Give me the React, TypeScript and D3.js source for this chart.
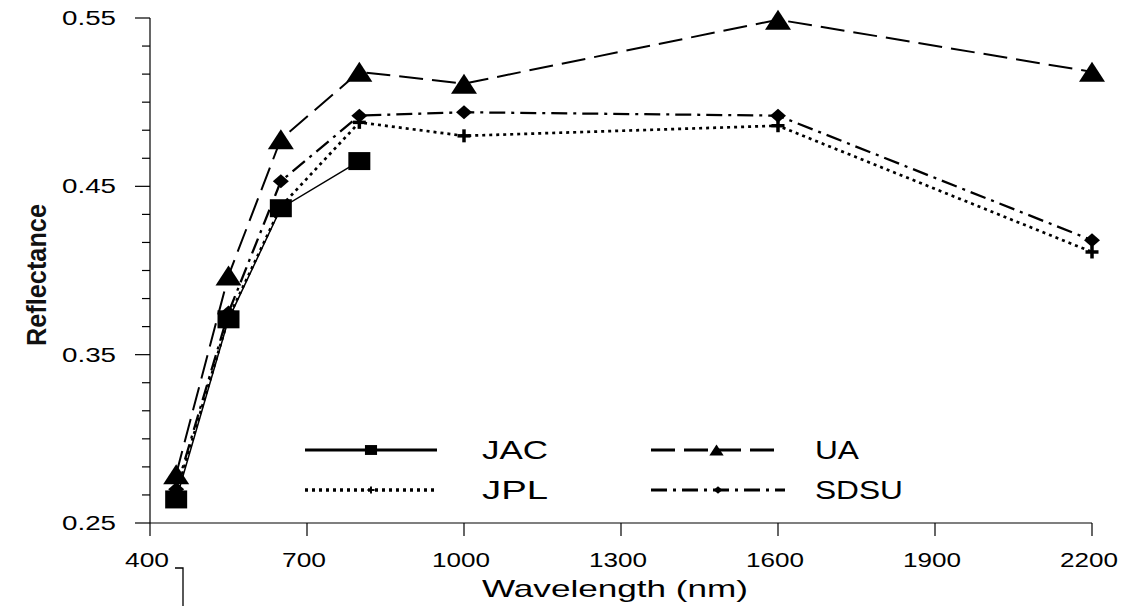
import React from "react";
import * as d3 from "d3";

const wavelengths = [450, 550, 650, 800, 1000, 1600, 2200];
const jac = [0.264, 0.371, 0.437, 0.465];
const ua = [0.279, 0.397, 0.478, 0.518, 0.511, 0.549, 0.518];
const jpl = [0.267, 0.372, 0.438, 0.488, 0.48, 0.486, 0.411];
const sdsu = [0.27, 0.375, 0.453, 0.492, 0.494, 0.492, 0.418];
const xTicks = [400, 700, 1000, 1300, 1600, 1900, 2200];
const yTicks = [0.25, 0.35, 0.45, 0.55];

const W = 1138;
const H = 606;
const FONT = "'Liberation Sans', Arial, sans-serif";

type MarkerKind = "square" | "triangle" | "plus" | "diamond";

function markerPath(kind: MarkerKind, cx: number, cy: number, s: number) {
  const p = d3.path();
  if (kind === "square") {
    const w = 22 * s, h = 18 * s;
    p.rect(cx - w / 2, cy - h / 2, w, h);
  } else if (kind === "triangle") {
    const w = 26 * s, h = 20 * s;
    p.moveTo(cx, cy - h / 2);
    p.lineTo(cx + w / 2, cy + h / 2);
    p.lineTo(cx - w / 2, cy + h / 2);
    p.closePath();
  } else if (kind === "diamond") {
    const w = 16 * s, h = 14 * s;
    p.moveTo(cx, cy - h / 2);
    p.lineTo(cx + w / 2, cy);
    p.lineTo(cx, cy + h / 2);
    p.lineTo(cx - w / 2, cy);
    p.closePath();
  }
  return p.toString();
}

const series = [
  { name: "JAC", values: jac, dash: "none", width: 1.5, legendWidth: 3, marker: "square" as MarkerKind },
  { name: "UA", values: ua, dash: "24,9", width: 2, legendWidth: 3, marker: "triangle" as MarkerKind },
  { name: "JPL", values: jpl, dash: "3,4", width: 2.7, legendWidth: 3.5, marker: "plus" as MarkerKind },
  { name: "SDSU", values: sdsu, dash: "16,6,3,6", width: 2.3, legendWidth: 3, marker: "diamond" as MarkerKind },
];

function Marker({ kind, cx, cy, s }: { kind: MarkerKind; cx: number; cy: number; s: number }) {
  if (kind === "plus") {
    const w = 13 * s, h = 13 * s;
    return (
      <g stroke="#000" strokeWidth={3.5 * s}>
        <line x1={cx - w / 2} x2={cx + w / 2} y1={cy} y2={cy} />
        <line x1={cx} x2={cx} y1={cy - h / 2} y2={cy + h / 2} />
      </g>
    );
  }
  return <path d={markerPath(kind, cx, cy, s)} fill="#000" />;
}

export default function App() {
  const x = d3.scaleLinear().domain([400, 2200]).range([150, 1092]);
  const y = d3.scaleLinear().domain([0.25, 0.55]).range([523, 18]);
  const minorY = d3.range(0, 19).map((i) => 0.25 + (i * 0.1) / 6).filter((_, i) => i % 6 !== 0);

  const line = d3
    .line<[number, number]>()
    .x((d) => x(d[0]))
    .y((d) => y(d[1]));

  const legendItems = [
    { s: series[0], x0: 305, x1: 437, tx: 482, ty: 450 },
    { s: series[1], x0: 651, x1: 782, tx: 815, ty: 450 },
    { s: series[2], x0: 305, x1: 437, tx: 482, ty: 490 },
    { s: series[3], x0: 651, x1: 785, tx: 815, ty: 490 },
  ];

  return (
    <svg width={W} height={H} style={{ position: "absolute", left: 0, top: 0, background: "#fff" }}>
      <rect width={W} height={H} fill="#fff" />
      {/* axes */}
      <g stroke="#000" strokeWidth={1.2} fill="none">
        <line x1={x(400)} x2={x(400)} y1={y(0.25)} y2={y(0.55)} />
        <line x1={x(400)} x2={x(2200)} y1={y(0.25)} y2={y(0.25)} />
        {yTicks.map((t) => (
          <line key={"yt" + t} x1={x(400) - 15} x2={x(400)} y1={y(t)} y2={y(t)} />
        ))}
        {minorY.map((t, i) => (
          <line key={"ym" + i} x1={x(400) - 8} x2={x(400)} y1={y(t)} y2={y(t)} />
        ))}
        {xTicks.map((t) => (
          <line key={"xt" + t} x1={x(t)} x2={x(t)} y1={y(0.25)} y2={y(0.25) + 13} />
        ))}
        <path d="M175,568 L183,568 L183,606" strokeWidth={1.3} />
      </g>
      {/* tick labels */}
      <g fontFamily={FONT} fontSize={20} fill="#000">
        {yTicks.map((t) => (
          <text
            key={"yl" + t}
            x={62}
            y={y(t) + 7}
            textLength={54}
            lengthAdjust="spacingAndGlyphs"
          >
            {d3.format(".2f")(t)}
          </text>
        ))}
        {xTicks.map((t) => {
          const lbl = String(t);
          const len = lbl.length === 3 ? 44 : 58;
          return (
            <text
              key={"xl" + t}
              x={x(t) - len / 2 - 3}
              y={567}
              fontSize={21}
              textLength={len}
              lengthAdjust="spacingAndGlyphs"
            >
              {lbl}
            </text>
          );
        })}
      </g>
      {/* axis titles */}
      <text
        x={482}
        y={597}
        fontFamily={FONT}
        fontSize={24}
        textLength={266}
        lengthAdjust="spacingAndGlyphs"
      >
        Wavelength (nm)
      </text>
      <text
        transform="translate(46,275) rotate(-90)"
        textAnchor="middle"
        fontFamily={FONT}
        fontSize={27}
        fontWeight="bold"
        fill="#111"
        textLength={142}
        lengthAdjust="spacingAndGlyphs"
      >
        Reflectance
      </text>
      {/* series lines */}
      {series.map((s) => (
        <path
          key={"l" + s.name}
          d={line(s.values.map((v, i) => [wavelengths[i], v] as [number, number])) || ""}
          fill="none"
          stroke="#000"
          strokeWidth={s.width}
          strokeDasharray={s.dash}
        />
      ))}
      {/* markers */}
      {series.map((s) =>
        s.values.map((v, i) => (
          <Marker key={s.name + i} kind={s.marker} cx={x(wavelengths[i])} cy={y(v)} s={1} />
        ))
      )}
      {/* legend */}
      {legendItems.map((it) => (
        <g key={"lg" + it.s.name}>
          <line
            x1={it.x0}
            x2={it.x1}
            y1={it.ty}
            y2={it.ty}
            stroke="#000"
            strokeWidth={it.s.legendWidth}
            strokeDasharray={it.s.dash}
          />
          <Marker kind={it.s.marker} cx={(it.x0 + it.x1) / 2} cy={it.ty} s={0.55} />
          <text
            x={it.tx}
            y={it.ty + 9}
            fontFamily={FONT}
            fontSize={25}
            textLength={it.s.name.length * 22}
            lengthAdjust="spacingAndGlyphs"
          >
            {it.s.name}
          </text>
        </g>
      ))}
    </svg>
  );
}
